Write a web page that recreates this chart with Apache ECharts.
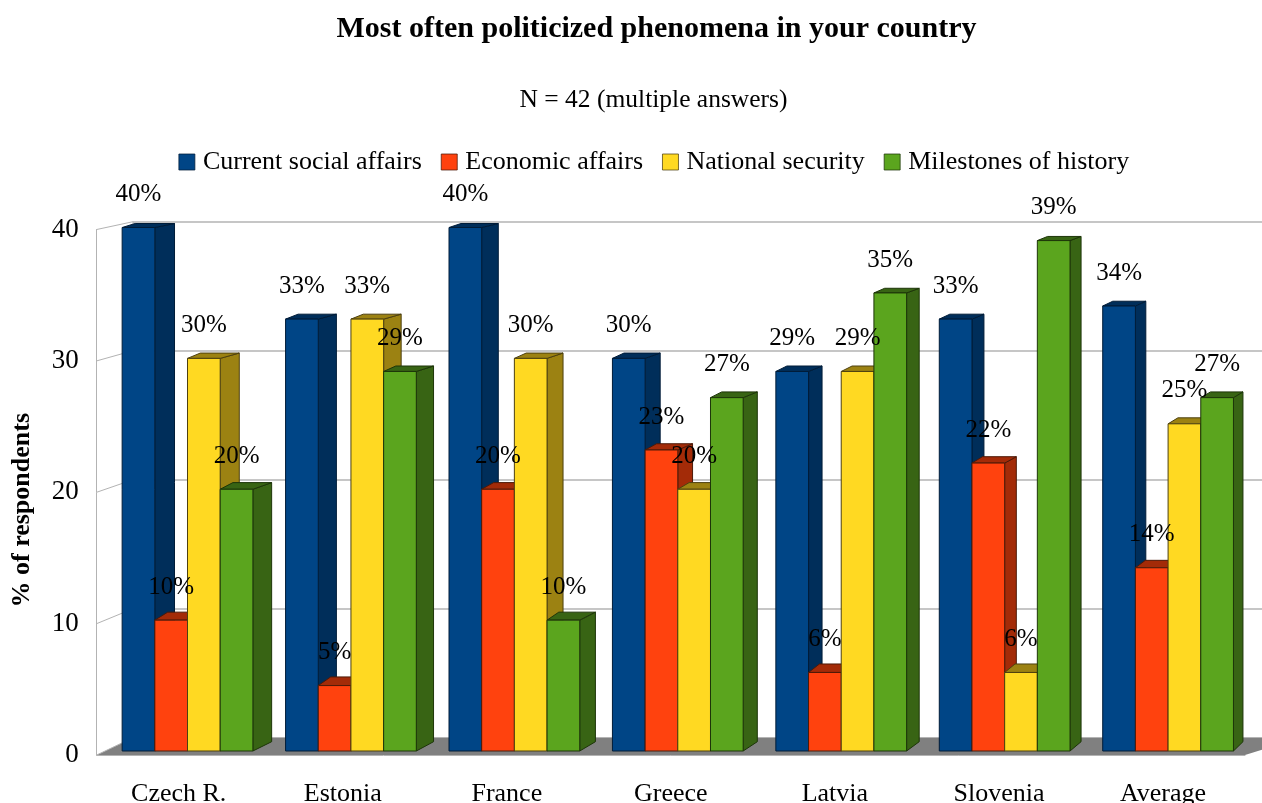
<!DOCTYPE html>
<html>
<head>
<meta charset="utf-8">
<style>html,body{margin:0;padding:0;background:#fff}#chart{width:1262px;height:803px}</style>
<script src="https://cdn.jsdelivr.net/npm/echarts@6/dist/echarts.min.js"></script>
</head>
<body>
<div id="chart"></div>
<script>
const categories = ['Czech R.', 'Estonia', 'France', 'Greece', 'Latvia', 'Slovenia', 'Average'];
const currentSocial = [40, 33, 40, 30, 29, 33, 34];
const economic = [10, 5, 20, 23, 6, 22, 14];
const nationalSecurity = [30, 33, 30, 20, 29, 6, 25];
const milestones = [20, 29, 10, 27, 35, 39, 27];
const yTicks = [0, 10, 20, 30, 40];

const seriesDefs = [
  { name: 'Current social affairs', values: currentSocial, color: '#004586', shade: '#002e5a', edge: '#001c38' },
  { name: 'Economic affairs', values: economic, color: '#ff420e', shade: '#a32b08', edge: '#4d1a08' },
  { name: 'National security', values: nationalSecurity, color: '#ffd922', shade: '#9c8212', edge: '#4d4010' },
  { name: 'Milestones of history', values: milestones, color: '#5ba51e', shade: '#386414', edge: '#1d3509' }
];

const SERIF = '"Liberation Serif", serif';
const FRONT = { left: 96.7, right: 1245, top: 229.5, bottom: 755 };
const BACK = { left: 133, right: 1300, top: 221.7, bottom: 737.7 };
const BARS = { left: 105.8, right: 1249.8, top: 227.5, bottom: 751 };
const GROUP_SHARE = 0.8;

function grid(b) {
  return {
    left: b.left, top: b.top, width: b.right - b.left, height: b.bottom - b.top,
    containLabel: false, outerBoundsMode: 'none'
  };
}
function frontY(v) { return FRONT.bottom - (FRONT.bottom - FRONT.top) * v / 40; }

// Depth of a bar's receding faces shrinks to the right and towards the top.
function depthRight(x) { return 19.7 - (x - 154) * 0.00945; }
function depthLeft(x) { return 13 - (x - 122) * 0.003; }
function depthY(y) { return 4 + (y - 227) * 0.0101; }

function barRenderer(def, index) {
  return function (params, api) {
    const cat = api.value(0);
    const value = api.value(1);
    const top = api.coord([cat, value]);
    const base = api.coord([cat, 0]);
    const band = api.size([1, 0])[0];
    const w = band * GROUP_SHARE / 4;
    const xl = top[0] - band * GROUP_SHARE / 2 + index * w;
    const xr = xl + w;
    const dxR = depthRight(xr), dxL = depthLeft(xl), dyT = depthY(top[1]), dyB = depthY(base[1]);
    const line = { stroke: def.edge, lineWidth: 1 };
    return {
      type: 'group',
      children: [
        {
          type: 'polygon',
          shape: { points: [[xr, top[1]], [xr + dxR, top[1] - dyT], [xr + dxR, base[1] - dyB], [xr, base[1]]] },
          style: Object.assign({ fill: def.shade }, line)
        },
        {
          type: 'polygon',
          shape: { points: [[xl, top[1]], [xr, top[1]], [xr + dxR, top[1] - dyT], [xl + dxL, top[1] - dyT]] },
          style: Object.assign({ fill: def.shade }, line)
        },
        {
          type: 'rect',
          shape: { x: xl, y: top[1], width: w, height: base[1] - top[1] },
          style: Object.assign({ fill: def.color }, line)
        },
        {
          type: 'text',
          z2: 100,
          style: {
            x: (xl + xr) / 2, y: top[1] - 33,
            text: value + '%',
            align: 'center', verticalAlign: 'middle',
            font: '25px ' + SERIF, fill: '#000'
          }
        }
      ]
    };
  };
}

// Floor and the slanted lines of the left wall, tied to the front and back planes.
function wallRenderer(params, api) {
  const children = [];
  children.push({
    type: 'polygon',
    shape: { points: [[FRONT.left, FRONT.bottom], [BACK.left, BACK.bottom], [BACK.right, BACK.bottom], [FRONT.right, FRONT.bottom]] },
    style: { fill: '#808080' }
  });
  yTicks.forEach(function (t) {
    const back = api.coord([0, t]);
    children.push({
      type: 'line',
      shape: { x1: FRONT.left, y1: frontY(t), x2: BACK.left, y2: back[1] },
      style: { stroke: '#b3b3b3', lineWidth: 1 }
    });
  });
  children.push({
    type: 'line',
    shape: { x1: BACK.left, y1: BACK.top, x2: BACK.left, y2: BACK.bottom },
    style: { stroke: '#b3b3b3', lineWidth: 1 }
  });
  return { type: 'group', children: children };
}

const chart = echarts.init(document.getElementById('chart'), null, { renderer: 'canvas' });

const hiddenAxis = { show: false };

chart.setOption({
  backgroundColor: '#fff',
  animation: false,
  title: [
    {
      text: 'Most often politicized phenomena in your country',
      left: 651.5, top: 9, textAlign: 'center',
      textStyle: { fontFamily: SERIF, fontWeight: 'bold', fontSize: 30, color: '#000' }
    },
    {
      text: 'N = 42 (multiple answers)',
      left: 648.5, top: 82, textAlign: 'center',
      textStyle: { fontFamily: SERIF, fontWeight: 'normal', fontSize: 25.5, color: '#000' }
    }
  ],
  legend: {
    data: seriesDefs.map(function (d) { return d.name; }),
    left: 173.5, top: 144,
    icon: 'rect',
    itemWidth: 16, itemHeight: 16, itemGap: 19,
    itemStyle: { borderWidth: 0.75 },
    textStyle: { fontFamily: SERIF, fontSize: 26, color: '#000', padding: [0, 0, 0, 3] }
  },
  grid: [grid(FRONT), grid(BACK), grid(BARS)],
  xAxis: [
    {
      gridIndex: 0, type: 'category', data: categories,
      axisLine: { show: true, lineStyle: { color: '#b3b3b3', width: 1 } },
      axisTick: { show: false },
      axisLabel: { fontFamily: SERIF, fontSize: 26, color: '#000', margin: 26, interval: 0 },
      z: 3
    },
    Object.assign({ gridIndex: 1, type: 'category', data: categories }, hiddenAxis),
    Object.assign({ gridIndex: 2, type: 'category', data: categories }, hiddenAxis)
  ],
  yAxis: [
    {
      gridIndex: 0, type: 'value', min: 0, max: 40, interval: 10,
      name: '% of respondents', nameLocation: 'middle', nameGap: 61, nameRotate: 90,
      nameTextStyle: { fontFamily: SERIF, fontWeight: 'bold', fontSize: 26, color: '#000', padding: [0, 36, 0, 0] },
      axisLine: { show: true, lineStyle: { color: '#b3b3b3', width: 1 } },
      axisTick: { show: false },
      axisLabel: { fontFamily: SERIF, fontSize: 27, color: '#000', margin: 18, padding: [4, 0, 0, 0] },
      splitLine: { show: false }
    },
    {
      gridIndex: 1, type: 'value', min: 0, max: 40, interval: 10,
      axisLine: { show: false }, axisTick: { show: false }, axisLabel: { show: false },
      splitLine: { show: true, lineStyle: { color: '#b3b3b3', width: 1.5 } }
    },
    Object.assign({ gridIndex: 2, type: 'value', min: 0, max: 40, interval: 10 }, hiddenAxis)
  ],
  series: [
    {
      type: 'custom', xAxisIndex: 1, yAxisIndex: 1, coordinateSystem: 'cartesian2d',
      silent: true, clip: false, z: 1,
      data: [[0, 0]],
      renderItem: wallRenderer
    }
  ].concat(seriesDefs.map(function (def, i) {
    return {
      name: def.name,
      type: 'custom',
      xAxisIndex: 2, yAxisIndex: 2, coordinateSystem: 'cartesian2d',
      clip: false, z: 2,
      itemStyle: { color: def.color, borderColor: def.edge, borderWidth: 1 },
      encode: { x: 0, y: 1 },
      data: def.values.map(function (v, c) { return [c, v]; }),
      renderItem: barRenderer(def, i)
    };
  }))
});
</script>
</body>
</html>
